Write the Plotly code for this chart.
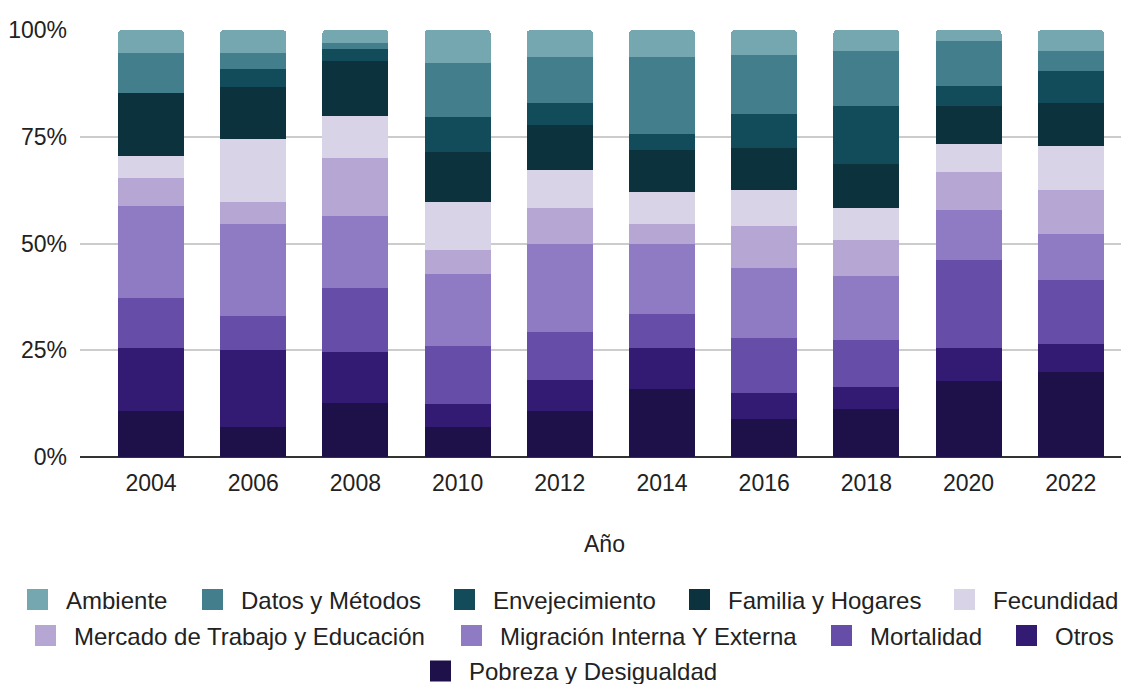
import plotly.graph_objects as go

# ---------------- data (percent share per year) ----------------
years = ["2004", "2006", "2008", "2010", "2012", "2014", "2016", "2018", "2020", "2022"]

pobreza        = [10.8, 7.0, 12.6, 7.0, 10.8, 16.0, 9.0, 11.3, 17.9, 19.8]
otros          = [14.7, 18.0, 11.9, 5.3, 7.2, 9.5, 6.1, 5.2, 7.6, 6.6]
mortalidad     = [11.7, 8.0, 15.1, 13.6, 11.2, 7.9, 12.7, 10.8, 20.6, 15.1]
migracion      = [21.7, 21.6, 16.8, 17.0, 20.7, 16.5, 16.5, 15.1, 11.7, 10.7]
mercado        = [6.5, 5.1, 13.7, 5.6, 8.5, 4.7, 9.8, 8.4, 9.0, 10.3]
fecundidad     = [5.2, 14.7, 9.8, 11.2, 8.9, 7.5, 8.4, 7.5, 6.6, 10.4]
familia        = [14.6, 12.2, 12.8, 11.8, 10.4, 9.9, 9.9, 10.3, 8.9, 9.9]
envejecimiento = [0.0, 4.2, 2.8, 8.1, 5.1, 3.7, 8.0, 13.7, 4.7, 7.5]
datos          = [9.3, 3.7, 1.4, 12.6, 10.8, 17.9, 13.7, 12.7, 10.4, 4.7]
ambiente       = [5.5, 5.5, 3.1, 7.8, 6.4, 6.4, 5.9, 5.0, 2.6, 5.0]

y_ticks = [0, 25, 50, 75, 100]
y_tick_labels = ["0%", "25%", "50%", "75%", "100%"]
x_title = "Año"

# stacking order: bottom -> top
series = [
    ("Pobreza y Desigualdad", pobreza),
    ("Otros", otros),
    ("Mortalidad", mortalidad),
    ("Migración Interna Y Externa", migracion),
    ("Mercado de Trabajo y Educación", mercado),
    ("Fecundidad", fecundidad),
    ("Familia y Hogares", familia),
    ("Envejecimiento", envejecimiento),
    ("Datos y Métodos", datos),
    ("Ambiente", ambiente),
]

# ---------------- styles ----------------
colors = {
    "Ambiente": "#74a7b0",
    "Datos y Métodos": "#437e8c",
    "Envejecimiento": "#124b5a",
    "Familia y Hogares": "#0b323d",
    "Fecundidad": "#d8d3e7",
    "Mercado de Trabajo y Educación": "#b6a6d3",
    "Migración Interna Y Externa": "#8e7bc3",
    "Mortalidad": "#664da7",
    "Otros": "#331a73",
    "Pobreza y Desigualdad": "#1e1049",
}

# The page body has an 8px margin, so the figure is offset by 8px;
# page-pixel positions below are converted into figure-container fractions.
OFF = 8
W, H = 1129 - OFF, 684 - OFF

# legend entry placement (left edge px, row centre px) in page pixels
legend_pos = {
    "Ambiente": (9, 600),
    "Datos y Métodos": (184, 600),
    "Envejecimiento": (436, 600),
    "Familia y Hogares": (671, 600),
    "Fecundidad": (936, 600),
    "Mercado de Trabajo y Educación": (17, 636),
    "Migración Interna Y Externa": (443, 636),
    "Mortalidad": (813, 636),
    "Otros": (998, 636),
    "Pobreza y Desigualdad": (412, 671.5),
}

FONT = "Arial, Liberation Sans, sans-serif"
TXT = "#222222"

fig = go.Figure()

for name, vals in series:
    fig.add_trace(go.Bar(
        x=years, y=vals, name=name,
        marker=dict(color=colors[name], line=dict(width=0)),
        showlegend=False,
    ))

layout_legends = {}
for i, name in enumerate(legend_pos):
    key = "legend" if i == 0 else f"legend{i + 1}"
    fig.add_trace(go.Scatter(
        x=[None], y=[None], mode="markers", name=name,
        marker=dict(symbol="square", size=16, color=colors[name],
                    line=dict(width=5, color=colors[name])),
        legend=key, showlegend=True, hoverinfo="skip",
    ))
    lx, ly = legend_pos[name]
    layout_legends[key] = dict(
        xref="container", yref="container",
        x=(lx - OFF) / W, y=1 - (ly - OFF) / H, xanchor="left", yanchor="middle",
        orientation="h", itemwidth=47, bgcolor="rgba(0,0,0,0)",
        font=dict(family=FONT, size=24, color=TXT),
        itemclick=False, itemdoubleclick=False,
    )

fig.update_layout(
    width=W, height=H,
    barmode="stack", barnorm="percent",
    bargap=0.354, barcornerradius=4,
    plot_bgcolor="white", paper_bgcolor="white",
    margin=dict(l=80 - OFF, r=0, t=30 - OFF, b=227, autoexpand=False),
    font=dict(family=FONT, size=23, color=TXT),
    xaxis=dict(
        type="category", range=[-0.695, 9.57],
        showgrid=False, showline=False, ticks="",
        tickfont=dict(family=FONT, size=23, color=TXT),
        ticklabelstandoff=10,
        title=dict(text=x_title, font=dict(family=FONT, size=23, color=TXT), standoff=40),
        automargin=False,
    ),
    yaxis=dict(
        range=[0, 100], tickmode="array", tickvals=y_ticks, ticktext=y_tick_labels,
        showgrid=True, gridcolor="#cccccc", gridwidth=2,
        zeroline=True, zerolinecolor="#333333", zerolinewidth=2,
        showline=False, ticks="",
        tickfont=dict(family=FONT, size=23, color=TXT),
        ticklabelstandoff=12,
        automargin=False,
    ),
    **layout_legends,
)

fig.write_html("out.html")
